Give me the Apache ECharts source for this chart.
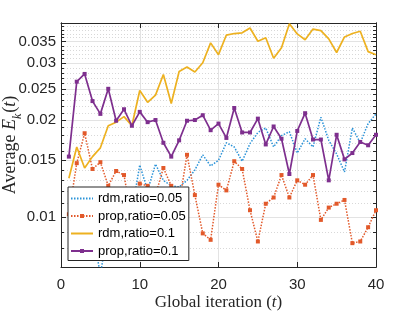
<!DOCTYPE html>
<html><head><meta charset="utf-8">
<script src="https://cdn.jsdelivr.net/npm/echarts@6/dist/echarts.min.js"></script>
<style>html,body{margin:0;padding:0;background:#fff}#c{width:415px;height:312px}</style>
</head><body><div id="c"></div>
<script>
const iterations = [1,2,3,4,5,6,7,8,9,10,11,12,13,14,15,16,17,18,19,20,21,22,23,24,25,26,27,28,29,30,31,32,33,34,35,36,37,38,39,40];
const rdm005 = [0.0108,0.0112,0.0101,0.0092,0.0066,0.0095,0.0104,0.0110,0.0104,0.0145,0.0121,0.0146,0.0130,0.0125,0.0124,0.0130,0.0140,0.0156,0.0144,0.0150,0.0170,0.0165,0.0149,0.0169,0.0183,0.0189,0.0165,0.0179,0.0184,0.0158,0.0175,0.0165,0.0204,0.0173,0.0157,0.0138,0.0189,0.0170,0.0195,0.0209];
const prop005 = [0.0102,0.0147,0.0182,0.0141,0.0148,0.0125,0.0139,0.0135,0.0098,0.0127,0.0125,0.0117,0.0142,0.0125,0.0110,0.0156,0.0117,0.0089,0.0085,0.0126,0.0121,0.0149,0.0141,0.0105,0.0084,0.0110,0.0115,0.0135,0.0115,0.0130,0.0126,0.0135,0.0098,0.0107,0.0110,0.0113,0.0083,0.0084,0.0093,0.0105];
const rdm01 = [0.0132,0.0165,0.0142,0.0154,0.0164,0.0192,0.0197,0.0205,0.0192,0.0247,0.0227,0.0239,0.0277,0.0225,0.0283,0.0292,0.0282,0.0301,0.0347,0.0319,0.0367,0.0371,0.0373,0.0386,0.0351,0.0360,0.0311,0.0335,0.0398,0.0370,0.0355,0.0383,0.0379,0.0357,0.0324,0.0362,0.0371,0.0377,0.0326,0.0319];
const prop01 = [0.0154,0.0263,0.0278,0.0229,0.0209,0.0250,0.0199,0.0216,0.0192,0.0212,0.0197,0.0200,0.0170,0.0154,0.0173,0.0199,0.0200,0.0207,0.0186,0.0195,0.0176,0.0218,0.0183,0.0183,0.0202,0.0168,0.0191,0.0175,0.0136,0.0185,0.0210,0.0174,0.0174,0.0130,0.0180,0.0151,0.0158,0.0171,0.0167,0.0180];
const seriesNames = ['rdm,ratio=0.05','prop,ratio=0.05','rdm,ratio=0.1','prop,ratio=0.1'];
const yMajorTicks = [0.01,0.015,0.02,0.025,0.03,0.035];
const yMinorTicks = [0.008,0.009,0.011,0.012,0.013,0.014,0.016,0.017,0.018,0.019,0.021,0.022,0.023,0.024,0.026,0.027,0.028,0.029,0.031,0.032,0.033,0.034,0.036,0.037,0.038,0.039];
const xTicks = [0,10,20,30,40];

const pair = arr => iterations.map((t,i)=>[t, arr[i]]);
const AX = '#262626';
const sans = 'Liberation Sans';
const serif = 'Liberation Serif';

const yBase = (pos, labels, ticks, len, split) => ({
  type:'log', logBase:10, min:0.007, max:0.04, position:pos, offset:0,
  axisLine:{show:true, lineStyle:{color:AX, width:1}},
  axisTick:{show:true, inside:true, length:len, customValues:ticks, lineStyle:{color:AX, width:1}},
  axisLabel: labels ? {show:true, customValues:labels, margin:5, color:'#262626', fontFamily:sans, fontSize:15,
     formatter: v => String(+(+v).toFixed(4))} : {show:false},
  splitLine: split ? split : {show:false},
  minorTick:{show:false},
  nameMoveOverlap:false
});

const yAxes = [
  Object.assign(yBase('left', yMajorTicks, yMajorTicks, 5, {show:true, lineStyle:{color:'#e3e3e3', width:1}}), {
    name:'{r|Average }{i|E}{s|k}{r|(}{i|t}{r|)}', nameLocation:'middle', nameGap:37, nameRotate:90,
    nameTextStyle:{color:'#262626', rich:{
      r:{fontFamily:serif, fontSize:18, color:'#262626', padding:[0,0,5,0], verticalAlign:'top'},
      i:{fontFamily:serif, fontSize:18, fontStyle:'italic', color:'#262626', padding:[0,0,5,0], verticalAlign:'top'},
      s:{fontFamily:serif, fontSize:12, fontStyle:'italic', color:'#262626', verticalAlign:'bottom', padding:[0,1,0,0]}
    }}
  }),
  yBase('left', null, yMinorTicks, 3, {show:true, lineStyle:{color:'#d8d8d8', width:1, type:[1,2]}}),
  yBase('right', null, yMajorTicks, 5, null),
  yBase('right', null, yMinorTicks, 3, null)
];

const xBase = (pos, showLabel, split) => ({
  type:'value', min:0, max:40, interval:10, position:pos,
  axisLine:{show:true, onZero:false, lineStyle:{color:AX, width:1}},
  axisTick:{show:true, inside:true, length:5, customValues:xTicks, lineStyle:{color:AX}},
  axisLabel: showLabel ? {show:true, customValues:xTicks, margin:10, color:'#262626', fontFamily:sans, fontSize:15} : {show:false},
  splitLine: split ? {show:true, lineStyle:{color:'#e3e3e3', width:1}} : {show:false},
  nameMoveOverlap:false
});

const xAxes = [
  Object.assign(xBase('bottom', true, true), {
    name:'{r|Global iteration (}{i|t}{r|)}', nameLocation:'middle', nameGap:27,
    nameTextStyle:{rich:{
      r:{fontFamily:serif, fontSize:17, color:'#262626'},
      i:{fontFamily:serif, fontSize:17, fontStyle:'italic', color:'#262626'}
    }}
  }),
  xBase('top', false, false)
];

const colors = ['#2b93d8','#e2592a','#EDB120','#7E2F8E'];
const markers = [false, true, false, true];
const mk = (idx, arr, dotted) => ({
  name: seriesNames[idx], type:'line', data:pair(arr), xAxisIndex:0, yAxisIndex:0,
  showSymbol: markers[idx], symbol: markers[idx] ? 'rect' : 'none', symbolSize:4,
  itemStyle:{color:colors[idx]},
  lineStyle:{color:colors[idx], width: dotted ? 1.5 : 1.7, type: dotted ? [1.5,1.5] : 'solid'},
  clip:true, animation:false
});

const option = {
  animation:false,
  backgroundColor:'#fff',
  grid:{left:61, right:39, top:23, bottom:45, containLabel:false, outerBoundsMode:'none'},
  xAxis:xAxes,
  yAxis:yAxes,
  legend:{
    orient:'vertical', left:68, top:187,
    data: seriesNames.map((n,i) => markers[i] ? {name:n} : {name:n, itemStyle:{color:'rgba(0,0,0,0)', opacity:0, borderWidth:0}}),
    backgroundColor:'#fff', borderColor:'#262626', borderWidth:1, borderRadius:0,
    padding:[5,3,3,2], itemGap:4.5, itemWidth:22, itemHeight:5,
    textStyle:{fontFamily:sans, fontSize:13, color:'#000', lineHeight:13},
    z:10
  },
  series:[
    mk(0, rdm005, true),
    mk(1, prop005, true),
    mk(2, rdm01, false),
    mk(3, prop01, false)
  ]
};
const chart = echarts.init(document.getElementById('c'), null, {renderer:'canvas'});
chart.setOption(option);
</script></body></html>
